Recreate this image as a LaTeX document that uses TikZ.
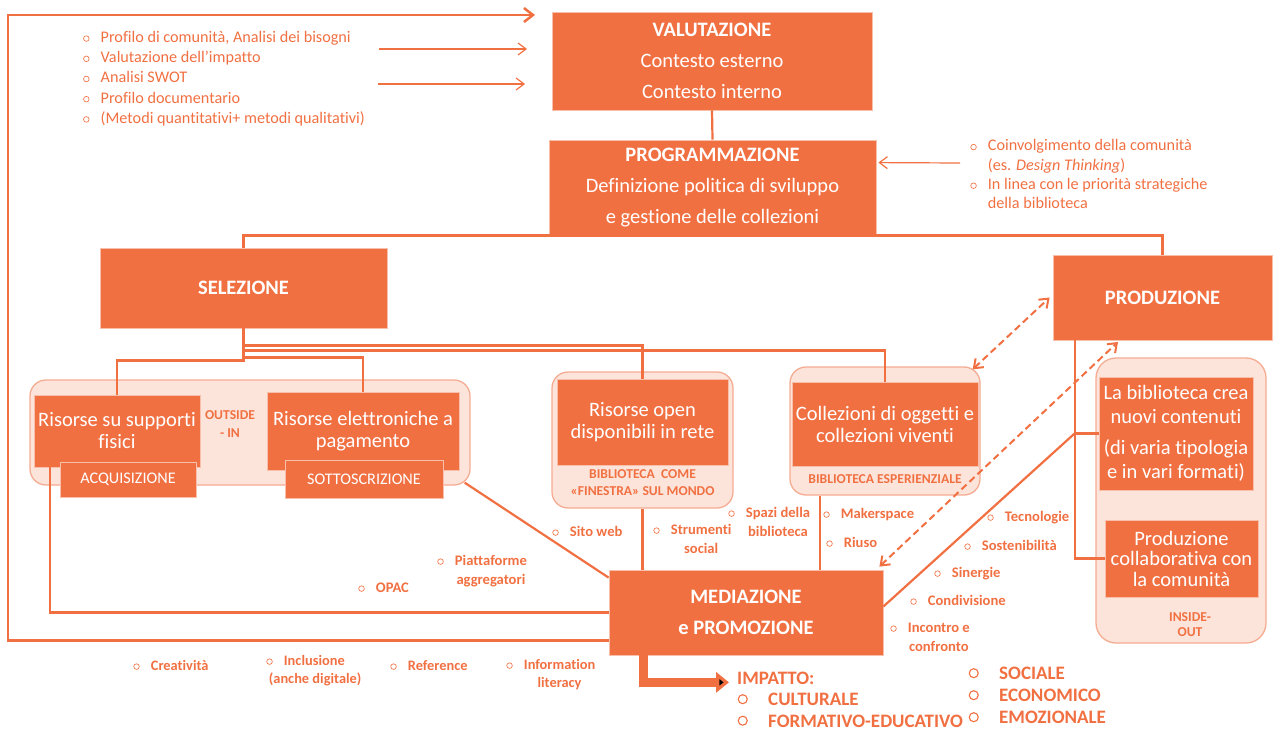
\documentclass[tikz,border=0pt]{standalone}
\usepackage{fontspec}
\setmainfont{Carlito}[Ligatures=NoCommon]
\usetikzlibrary{arrows.meta,calc}

\definecolor{orng}{RGB}{241,112,66}
\definecolor{lite}{RGB}{252,228,218}
\definecolor{paneedge}{RGB}{245,172,146}
\definecolor{boxedge}{RGB}{248,192,170}

\newcommand{\bul}{\makebox[17.5pt][l]{\tikz[baseline=0pt]\draw[orng,line width=.65pt] (2.8pt,3.9pt) circle (2.8pt);}}
\newcommand{\nobul}{\hspace*{17.5pt}}
\newcommand{\bigbul}{\makebox[30.5pt][l]{\tikz[baseline=0pt]\draw[orng,line width=1.1pt] (4.5pt,6.3pt) circle (4.5pt);}}
\newcommand{\twoline}[2]{\begin{tabular}[t]{@{}c@{}}#1\\#2\end{tabular}}

\begin{document}
\begin{tikzpicture}[x=1pt,y=-1pt,
    orbox/.style={fill=orng,draw=boxedge,line width=.8pt,text=white,inner sep=0pt,align=center},
    pane/.style={fill=lite,draw=paneedge,line width=1.3pt,rounded corners=16pt},
    bigtext/.style={font=\fontsize{20.5}{31}\selectfont},
    headtext/.style={font=\fontsize{20.5}{24}\selectfont\bfseries},
    midtext/.style={font=\fontsize{20.5}{22}\selectfont},
    smalltext/.style={font=\fontsize{16.2}{19}\selectfont},
    panelabel/.style={text=orng,inner sep=0pt,align=center,font=\fontsize{13.6}{17}\selectfont\bfseries},
    itemlist/.style={anchor=base west,inner sep=0pt,text=orng,font=\fontsize{16.2}{20.2}\selectfont},
    tagitem/.style={anchor=base west,inner sep=0pt,text=orng,font=\fontsize{14.6}{18.5}\selectfont\bfseries},
    impact/.style={anchor=base west,inner sep=0pt,text=orng,font=\fontsize{19}{21.5}\selectfont\bfseries},
    conn/.style={draw=orng,line width=2.2pt},
    thinarrow/.style={draw=orng,line width=1.2pt,-{Straight Barb[length=8pt,width=12pt]}},
    loopline/.style={draw=orng,line width=2.5pt,-{Straight Barb[length=9pt,width=14pt]}},
    dashlink/.style={draw=orng,line width=2pt,dash pattern=on 7pt off 4pt,
      {Straight Barb[length=8pt,width=12pt]}-{Straight Barb[length=8pt,width=12pt]}},
    bigarrow/.style={draw=orng,line width=9pt,-{Triangle[length=13pt,width=20pt]}}]

  \useasboundingbox (0,0) rectangle (1273,730);

  \begin{scope}[every node/.style={pane}]
    \node[minimum width=440pt,minimum height=105pt] (outin)    at (250,432.5) {};
    \node[minimum width=181pt,minimum height=136pt] (openpane) at (642.5,440) {};
    \node[minimum width=190pt,minimum height=128pt] (collpane) at (885,431)   {};
    \node[minimum width=170pt,minimum height=285pt,rounded corners=20pt] (inpane) at (1181,500.5) {};
  \end{scope}

  \begin{scope}[every node/.style={orbox}]
    \node[bigtext,minimum width=320pt,minimum height=98pt] (valu) at (712,61)
      {\textbf{VALUTAZIONE}\\Contesto esterno\\Contesto interno};
    \node[bigtext,minimum width=327pt,minimum height=95pt] (prog) at (712.5,187.5)
      {\textbf{PROGRAMMAZIONE}\\Definizione politica di sviluppo\\e gestione delle collezioni};
    \node[headtext,minimum width=287pt,minimum height=80pt] (sel)  at (243.5,288)  {SELEZIONE};
    \node[headtext,minimum width=219pt,minimum height=85pt] (prod) at (1162.5,297.5) {PRODUZIONE};
    \node[midtext,minimum width=166pt,minimum height=72pt] (supp) at (117,431) {Risorse su supporti\\fisici};
    \node[smalltext,minimum width=136pt,minimum height=35pt] (acq) at (128,479.5) {ACQUISIZIONE};
    \node[midtext,minimum width=192pt,minimum height=78pt] (elet) at (363,431) {Risorse elettroniche a\\pagamento};
    \node[smalltext,minimum width=158pt,minimum height=38pt] (sott) at (364,479) {SOTTOSCRIZIONE};
    \node[midtext,minimum width=171pt,minimum height=86pt] (open) at (642.5,422.5) {Risorse open\\disponibili in rete};
    \node[midtext,minimum width=186pt,minimum height=84pt] (coll) at (885,424) {Collezioni di oggetti e\\collezioni viventi};
    \node[midtext,font=\fontsize{20.5}{24}\selectfont,minimum width=154pt,minimum height=113pt] (crea) at (1176,433.5)
      {La biblioteca crea\\nuovi contenuti\\[7pt](di varia tipologia\\e in vari formati)};
    \node[midtext,font=\fontsize{20.5}{20.5}\selectfont,minimum width=153pt,minimum height=77pt] (collab) at (1181.5,558.5)
      {Produzione\\collaborativa con\\la comunità};
    \node[bigtext,minimum width=274pt,minimum height=85pt] (med) at (746,612.5)
      {\textbf{MEDIAZIONE}\\\textbf{e PROMOZIONE}};
  \end{scope}

  \node[panelabel,font=\fontsize{13.6}{18}\selectfont\bfseries] (outlab) at (230,424) {OUTSIDE\\- IN};
  \node[panelabel] (openlab) at (642.5,482.5) {BIBLIOTECA\ \ COME\\«FINESTRA» SUL MONDO};
  \node[panelabel] (colllab) at (885,479) {BIBLIOTECA ESPERIENZIALE};
  \node[panelabel,font=\fontsize{13.6}{15.5}\selectfont\bfseries] (inlab) at (1190,624.5) {INSIDE-\\OUT};

  \node[itemlist] (evallist) at (83,42.5) {\begin{tabular}[t]{@{}l@{}}
      \bul Profilo di comunità, Analisi dei bisogni\\
      \bul Valutazione dell’impatto\\
      \bul Analisi SWOT\\
      \bul Profilo documentario\\
      \bul (Metodi quantitativi+ metodi qualitativi)\end{tabular}};
  \node[itemlist,font=\fontsize{16.2}{19.3}\selectfont] (proglist) at (970.2,151) {\begin{tabular}[t]{@{}l@{}}
      \bul Coinvolgimento della comunità\\
      \nobul (es. \textit{Design Thinking})\\
      \bul In linea con le priorità strategiche\\
      \nobul della biblioteca\end{tabular}};

  \node[tagitem] (sito)  at (552.2,536.5) {\bul Sito web};
  \node[tagitem] (strum) at (653.2,534.5) {\bul\twoline{Strumenti}{social}};
  \node[tagitem] (spazi) at (728.2,517.5) {\bul\twoline{Spazi della}{biblioteca}};
  \node[tagitem] (maker) at (823.2,518.5) {\bul Makerspace};
  \node[tagitem] (riuso) at (826.2,547.5) {\bul Riuso};
  \node[tagitem] (tecno) at (987.2,521.5) {\bul Tecnologie};
  \node[tagitem] (soste) at (964.2,550.5) {\bul Sostenibilità};
  \node[tagitem] (siner) at (934.2,577.5) {\bul Sinergie};
  \node[tagitem] (condi) at (910.2,605.5) {\bul Condivisione};
  \node[tagitem] (incon) at (890.2,632.5) {\bul\twoline{Incontro e}{confronto}};
  \node[tagitem] (piatt) at (437.2,565.5) {\bul\twoline{Piattaforme}{aggregatori}};
  \node[tagitem] (opac)  at (358.2,592.5) {\bul OPAC};

  \begin{scope}[every node/.style={tagitem,font=\fontsize{14.4}{17.5}\selectfont\bfseries}]
    \node (creat) at (133.2,670.5) {\bul Creatività};
    \node (inclu) at (266.2,665.5) {\bul\begin{tabular}[t]{@{}l@{}}Inclusione\\\hspace*{-15pt}(anche digitale)\end{tabular}};
    \node (refer) at (390.2,670.5) {\bul Reference};
    \node (info)  at (506.2,669.5) {\bul\twoline{Information}{literacy}};
  \end{scope}

  \node[impact] (impatto) at (737,684.5) {IMPATTO:};
  \node[impact] (implist) at (737.5,705.5) {\begin{tabular}[t]{@{}l@{}}
      \bigbul CULTURALE\\\bigbul FORMATIVO-EDUCATIVO\end{tabular}};
  \node[impact,font=\fontsize{19}{22}\selectfont\bfseries] (implist2) at (968.5,679.5) {\begin{tabular}[t]{@{}l@{}}
      \bigbul SOCIALE\\\bigbul ECONOMICO\\\bigbul EMOZIONALE\end{tabular}};

  \coordinate (looptip) at (535,15);
  \coordinate (ev1) at (379,49);
  \coordinate (ev1tip) at (527,49);
  \coordinate (ev2) at (378,84);
  \coordinate (ev2tip) at (525,84);
  \coordinate (pl) at (960,163);
  \coordinate (collfoot) at ([xshift=-65pt]collpane.south);
  \coordinate (prodfoot) at ([xshift=22pt]prod.south west);
  \coordinate (dashtip) at (1118,342);

  \draw[conn] (valu.south) -- (prog.north);
  \draw[conn] (sel.north) |- (prog.south) -| (prod.north);
  \draw[conn] (sel.south) -- ++(0,32) -| (supp.north);
  \draw[conn] (sel.south) -- ++(0,29) -| (elet.north);
  \draw[conn] (sel.south) -- ++(0,17) -| (open.north);
  \draw[conn] (sel.south) -- ++(0,22) -| (coll.north);
  \draw[conn] ([xshift=16pt]supp.south west) |- (med.west);
  \draw[conn] ($(outin.south east)+(-6,-3)$) -- ($(med.north west)+(0,8)$);
  \draw[conn] (openpane.south) -- (openpane.south |- med.north);
  \draw[conn] (collfoot) -- (collfoot |- med.north);
  \draw[conn] (prodfoot) |- (collab.west);
  \draw[conn] (prodfoot |- crea.west) -- (crea.west);
  \draw[conn] (prodfoot |- crea.west) -- ($(med.east)+(0,-6)$);
  \draw[loopline] ($(med.west)+(0,28)$) -| (8,15) -- (looptip);
  \draw[thinarrow] (ev1) -- (ev1tip);
  \draw[thinarrow] (ev2) -- (ev2tip);
  \draw[thinarrow] (pl) -- ($(prog.north east)+(2,23)$);
  \draw[dashlink] ($(collpane.north east)+(-8,3)$) -- ($(prod.west)+(-3,0)$);
  \draw[dashlink] ($(med.north east)+(-4,-3)$) -- (dashtip);
  \draw[bigarrow] ([xshift=35pt]med.south west) |- ($(impatto.west)+(-8,4)$);

\end{tikzpicture}
\end{document}
